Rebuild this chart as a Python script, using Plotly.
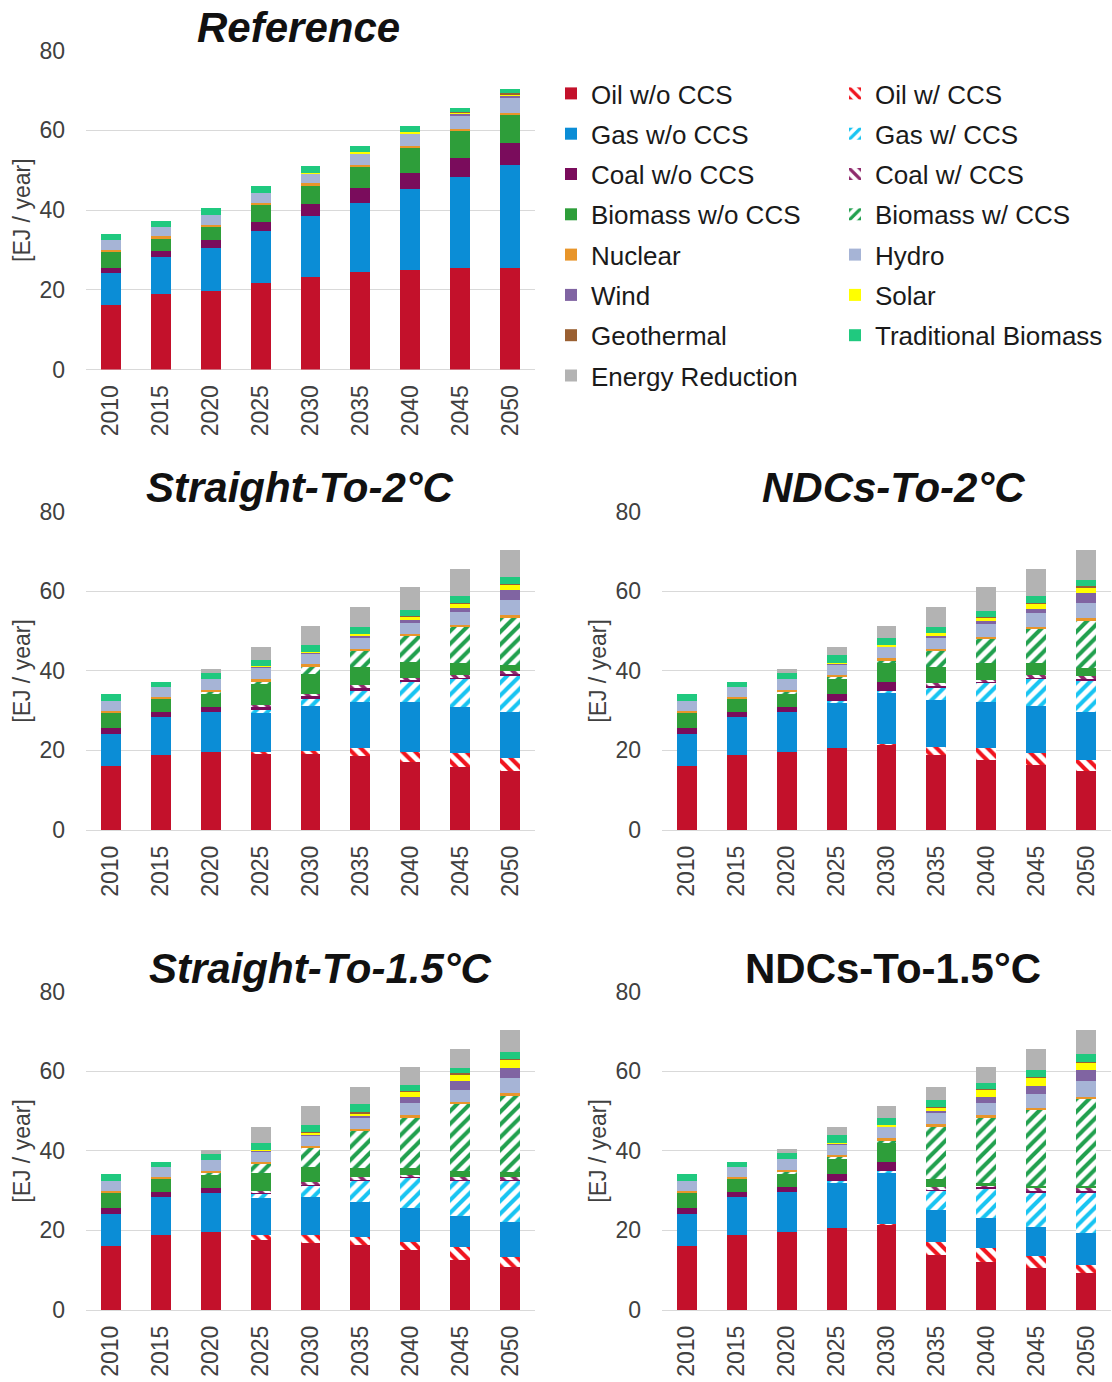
import plotly.graph_objects as go

# ---------------- categories / series ----------------
YEARS = ["2010", "2015", "2020", "2025", "2030", "2035", "2040", "2045", "2050"]

SERIES = ["Oil w/o CCS", "Oil w/ CCS", "Gas w/o CCS", "Gas w/ CCS",
          "Coal w/o CCS", "Coal w/ CCS", "Biomass w/o CCS", "Biomass w/ CCS",
          "Nuclear", "Hydro", "Wind", "Solar", "Geothermal",
          "Traditional Biomass", "Energy Reduction"]

COLORS = ["#C3112B", "#F0141E", "#0B8DD6", "#18C4F2",
          "#7A0C5C", "#8E2A6C", "#2E9E3A", "#21A04E",
          "#E8952A", "#A6B4D6", "#8064A2", "#FFFF00", "#9A6032",
          "#20C97F", "#B3B3B3"]

PATTERNS = ["", "\\", "", "/", "", "\\", "", "/", "", "", "", "", "", "", ""]

# ---------------- Reference ----------------
REF_OIL      = [16.2, 18.9, 19.7, 21.8, 23.3, 24.4, 24.9, 25.5, 25.5]
REF_OIL_CCS  = [0, 0, 0, 0, 0, 0, 0, 0, 0]
REF_GAS      = [7.9, 9.4, 10.7, 13.0, 15.3, 17.4, 20.4, 22.9, 25.8]
REF_GAS_CCS  = [0, 0, 0, 0, 0, 0, 0, 0, 0]
REF_COAL     = [1.4, 1.4, 2.1, 2.3, 2.9, 3.6, 3.9, 4.6, 5.4]
REF_COAL_CCS = [0, 0, 0, 0, 0, 0, 0, 0, 0]
REF_BIO      = [4.2, 3.4, 3.5, 4.3, 4.8, 5.5, 6.3, 6.7, 7.1]
REF_BIO_CCS  = [0, 0, 0, 0, 0, 0, 0, 0, 0]
REF_NUCLEAR  = [0.3, 0.3, 0.3, 0.3, 0.4, 0.5, 0.6, 0.6, 0.6]
REF_HYDRO    = [2.5, 2.4, 2.4, 2.5, 2.5, 2.8, 3.1, 3.5, 3.8]
REF_WIND     = [0, 0, 0, 0, 0.1, 0.2, 0.2, 0.4, 0.6]
REF_SOLAR    = [0, 0, 0, 0, 0.05, 0.1, 0.1, 0.3, 0.4]
REF_GEO      = [0, 0, 0, 0, 0, 0, 0, 0.1, 0.1]
REF_TRAD     = [1.6, 1.4, 1.7, 1.7, 1.8, 1.5, 1.5, 1.0, 1.0]
REF_ER       = [0, 0, 0, 0, 0, 0, 0, 0, 0]

# ---------------- Straight-To-2°C ----------------
S2_OIL      = [16.2, 18.9, 19.5, 19.3, 19.0, 18.6, 17.2, 15.9, 14.7]
S2_OIL_CCS  = [0, 0, 0, 0.2, 0.8, 1.9, 2.5, 3.4, 3.3]
S2_GAS      = [7.9, 9.4, 10.1, 10.2, 11.3, 11.7, 12.5, 11.7, 11.7]
S2_GAS_CCS  = [0, 0, 0, 0.5, 1.7, 2.6, 5.0, 7.1, 9.2]
S2_COAL     = [1.4, 1.4, 1.4, 1.0, 1.0, 1.2, 0.7, 0.4, 0.3]
S2_COAL_CCS = [0, 0, 0, 0.3, 0.3, 0.3, 0.3, 0.5, 0.7]
S2_BIO      = [4.2, 3.4, 3.3, 5.2, 5.0, 4.7, 4.0, 3.0, 1.6]
S2_BIO_CCS  = [0, 0, 0.5, 0.8, 2.1, 4.2, 6.7, 9.2, 12.1]
S2_NUCLEAR  = [0.3, 0.3, 0.3, 0.5, 0.4, 0.3, 0.3, 0.3, 0.4]
S2_HYDRO    = [2.5, 2.4, 2.9, 3.0, 2.8, 3.0, 3.0, 3.3, 3.8]
S2_WIND     = [0, 0, 0, 0.1, 0.2, 0.4, 0.5, 1.0, 2.5]
S2_SOLAR    = [0, 0, 0, 0.05, 0.1, 0.4, 1.0, 1.2, 1.5]
S2_GEO      = [0, 0, 0, 0, 0, 0, 0.1, 0.1, 0.1]
S2_TRAD     = [1.6, 1.4, 1.4, 1.5, 1.8, 1.6, 1.5, 1.6, 1.6]
S2_ER       = [0, 0, 1.0, 3.25, 4.65, 5.1, 5.7, 6.9, 6.8]

# ---------------- NDCs-To-2°C ----------------
N2_OIL      = [16.2, 18.9, 19.5, 20.5, 21.5, 18.8, 17.6, 16.3, 14.7]
N2_OIL_CCS  = [0, 0, 0, 0, 0.1, 2.1, 2.9, 3.0, 2.9]
N2_GAS      = [7.9, 9.4, 10.1, 11.7, 13.1, 11.8, 11.7, 11.9, 12.1]
N2_GAS_CCS  = [0, 0, 0, 0.3, 0.2, 2.9, 4.7, 6.9, 8.0]
N2_COAL     = [1.4, 1.4, 1.4, 1.6, 2.2, 0.9, 0.6, 0.4, 0.3]
N2_COAL_CCS = [0, 0, 0, 0, 0, 0.3, 0.3, 0.5, 0.8]
N2_BIO      = [4.2, 3.4, 3.3, 4.2, 5.2, 4.2, 4.1, 2.9, 1.8]
N2_BIO_CCS  = [0, 0, 0.5, 0.4, 0.4, 4.2, 6.3, 8.8, 12.2]
N2_NUCLEAR  = [0.3, 0.3, 0.3, 0.3, 0.4, 0.3, 0.3, 0.3, 0.5]
N2_HYDRO    = [2.5, 2.4, 2.9, 2.8, 3.0, 3.1, 3.4, 3.4, 3.6]
N2_WIND     = [0, 0, 0, 0.1, 0.2, 0.4, 0.5, 1.2, 2.6]
N2_SOLAR    = [0, 0, 0, 0.05, 0.1, 0.5, 1.0, 1.4, 1.6]
N2_GEO      = [0, 0, 0, 0, 0, 0, 0.1, 0.1, 0.1]
N2_TRAD     = [1.6, 1.4, 1.4, 2.0, 1.8, 1.6, 1.5, 1.6, 1.6]
N2_ER       = [0, 0, 1.0, 1.95, 2.95, 4.9, 6.0, 6.9, 7.5]

# ---------------- Straight-To-1.5°C ----------------
S15_OIL      = [16.2, 18.9, 19.5, 17.6, 16.8, 16.3, 15.1, 12.6, 10.9]
S15_OIL_CCS  = [0, 0, 0, 1.2, 2.0, 2.1, 2.1, 3.3, 2.5]
S15_GAS      = [7.9, 9.4, 9.8, 9.3, 9.7, 8.8, 8.3, 7.6, 8.8]
S15_GAS_CCS  = [0, 0, 0, 1.2, 2.9, 5.5, 8.0, 9.2, 10.5]
S15_COAL     = [1.4, 1.4, 1.3, 0.4, 0.3, 0.2, 0.2, 0.2, 0.2]
S15_COAL_CCS = [0, 0, 0, 0.2, 0.4, 0.4, 0.3, 0.5, 0.5]
S15_BIO      = [4.2, 3.4, 3.6, 4.4, 3.9, 2.3, 1.6, 1.4, 1.2]
S15_BIO_CCS  = [0, 0, 0.5, 2.6, 5.0, 9.6, 13.0, 17.1, 19.4]
S15_NUCLEAR  = [0.3, 0.3, 0.3, 0.3, 0.3, 0.3, 0.3, 0.4, 0.4]
S15_HYDRO    = [2.5, 2.4, 2.8, 2.8, 2.7, 3.1, 3.0, 3.0, 3.8]
S15_WIND     = [0, 0, 0, 0.2, 0.3, 0.4, 1.7, 2.1, 2.5]
S15_SOLAR    = [0, 0, 0, 0.1, 0.4, 0.5, 1.4, 2.0, 2.3]
S15_GEO      = [0, 0, 0, 0, 0.1, 0.3, 0.1, 0.1, 0.1]
S15_TRAD     = [1.6, 1.4, 1.4, 1.6, 1.6, 2.0, 1.5, 1.4, 1.6]
S15_ER       = [0, 0, 1.0, 4.0, 4.75, 4.2, 4.4, 4.7, 5.6]

# ---------------- NDCs-To-1.5°C ----------------
N15_OIL      = [16.2, 18.9, 19.5, 20.5, 21.5, 13.8, 12.1, 10.5, 9.2]
N15_OIL_CCS  = [0, 0, 0, 0, 0.1, 3.4, 3.4, 3.1, 2.1]
N15_GAS      = [7.9, 9.4, 10.1, 11.7, 13.1, 7.9, 7.5, 7.3, 8.0]
N15_GAS_CCS  = [0, 0, 0, 0.3, 0.2, 5.1, 7.6, 8.8, 10.4]
N15_COAL     = [1.4, 1.4, 1.4, 1.6, 2.2, 0.3, 0.3, 0.3, 0.3]
N15_COAL_CCS = [0, 0, 0, 0, 0, 0.3, 0.6, 0.8, 0.8]
N15_BIO      = [4.2, 3.4, 3.3, 4.2, 5.2, 2.0, 0.5, 0.3, 0.3]
N15_BIO_CCS  = [0, 0, 0.5, 0.4, 0.4, 13.4, 16.6, 19.4, 22.1]
N15_NUCLEAR  = [0.3, 0.3, 0.3, 0.3, 0.4, 0.4, 0.3, 0.3, 0.4]
N15_HYDRO    = [2.5, 2.4, 2.9, 2.8, 3.0, 2.9, 3.0, 3.5, 3.8]
N15_WIND     = [0, 0, 0, 0.1, 0.2, 0.6, 1.7, 2.0, 2.8]
N15_SOLAR    = [0, 0, 0, 0.05, 0.1, 0.8, 1.8, 2.2, 2.1]
N15_GEO      = [0, 0, 0, 0, 0, 0.1, 0.1, 0.1, 0.1]
N15_TRAD     = [1.6, 1.4, 1.4, 2.0, 1.8, 1.8, 1.5, 1.6, 1.8]
N15_ER       = [0, 0, 1.0, 1.95, 2.95, 3.2, 4.0, 5.4, 6.1]

Y_TICKS = [0, 20, 40, 60, 80]
Y_TITLE = "[EJ / year]"

REF_DATA = [REF_OIL, REF_OIL_CCS, REF_GAS, REF_GAS_CCS, REF_COAL, REF_COAL_CCS, REF_BIO, REF_BIO_CCS,
            REF_NUCLEAR, REF_HYDRO, REF_WIND, REF_SOLAR, REF_GEO, REF_TRAD, REF_ER]
S2_DATA = [S2_OIL, S2_OIL_CCS, S2_GAS, S2_GAS_CCS, S2_COAL, S2_COAL_CCS, S2_BIO, S2_BIO_CCS,
           S2_NUCLEAR, S2_HYDRO, S2_WIND, S2_SOLAR, S2_GEO, S2_TRAD, S2_ER]
N2_DATA = [N2_OIL, N2_OIL_CCS, N2_GAS, N2_GAS_CCS, N2_COAL, N2_COAL_CCS, N2_BIO, N2_BIO_CCS,
           N2_NUCLEAR, N2_HYDRO, N2_WIND, N2_SOLAR, N2_GEO, N2_TRAD, N2_ER]
S15_DATA = [S15_OIL, S15_OIL_CCS, S15_GAS, S15_GAS_CCS, S15_COAL, S15_COAL_CCS, S15_BIO, S15_BIO_CCS,
            S15_NUCLEAR, S15_HYDRO, S15_WIND, S15_SOLAR, S15_GEO, S15_TRAD, S15_ER]
N15_DATA = [N15_OIL, N15_OIL_CCS, N15_GAS, N15_GAS_CCS, N15_COAL, N15_COAL_CCS, N15_BIO, N15_BIO_CCS,
            N15_NUCLEAR, N15_HYDRO, N15_WIND, N15_SOLAR, N15_GEO, N15_TRAD, N15_ER]

# ---------------- layout helpers ----------------
W, H = 1112, 1382
FONT = "Arial, 'Liberation Sans', sans-serif"


def fx(p):
    return p / W


def fy(p):
    return 1 - p / H


PANELS = [
    dict(data=REF_DATA, title="<b><i>Reference</i></b>", x0=86, x1=535, ytop=50.5, ybot=369.5, tx=298, ty=27, ax=22),
    dict(data=S2_DATA, title="<b><i>Straight-To-2°C</i></b>", x0=86, x1=535, ytop=511.5, ybot=830, tx=300, ty=488, ax=22),
    dict(data=N2_DATA, title="<b><i>NDCs-To-2°C</i></b>", x0=662, x1=1111, ytop=511.5, ybot=830, tx=893, ty=488, ax=598),
    dict(data=S15_DATA, title="<b><i>Straight-To-1.5°C</i></b>", x0=86, x1=535, ytop=991.5, ybot=1310, tx=320, ty=968, ax=22),
    dict(data=N15_DATA, title="<b>NDCs-To-1.5°C</b>", x0=662, x1=1111, ytop=991.5, ybot=1310, tx=893, ty=968, ax=598),
]

fig = go.Figure()
annotations = []
layout_axes = {}

for i, p in enumerate(PANELS):
    n = "" if i == 0 else str(i + 1)
    for j, name in enumerate(SERIES):
        pat = PATTERNS[j]
        if pat:
            marker = dict(color=COLORS[j], line=dict(width=0),
                          pattern=dict(shape=pat, fgcolor=COLORS[j], bgcolor="white",
                                       size=9, solidity=0.45, fillmode="replace"))
        else:
            marker = dict(color=COLORS[j], line=dict(width=0))
        fig.add_trace(go.Bar(
            x=YEARS, y=p["data"][j], name=name, marker=marker,
            xaxis="x" + n, yaxis="y" + n,
            legend="legend" if j % 2 == 0 else "legend2",
            legendgroup=name, showlegend=(i == 0),
        ))
    layout_axes["xaxis" + n] = dict(
        domain=[fx(p["x0"]), fx(p["x1"])], anchor="y" + n, type="category",
        showgrid=False, showline=False, ticks="", tickangle=-90,
        tickfont=dict(family=FONT, size=23, color="#404040"), ticklabelstandoff=10,
    )
    layout_axes["yaxis" + n] = dict(
        domain=[fy(p["ybot"]), fy(p["ytop"])], anchor="x" + n,
        range=[0, 80], tickvals=Y_TICKS, showgrid=True, gridcolor="#D9D9D9", gridwidth=1,
        zeroline=True, zerolinecolor="#D9D9D9", zerolinewidth=1, showline=False, ticks="",
        tickfont=dict(family=FONT, size=23, color="#404040"), ticklabelstandoff=20,
    )
    annotations.append(dict(
        text=p["title"], x=fx(p["tx"]), y=fy(p["ty"]), xref="paper", yref="paper",
        xanchor="center", yanchor="middle", showarrow=False,
        font=dict(family=FONT, size=42, color="#111111"),
    ))
    annotations.append(dict(
        text=Y_TITLE, x=fx(p["ax"]), y=fy((p["ytop"] + p["ybot"]) / 2), xref="paper", yref="paper",
        xanchor="center", yanchor="middle", showarrow=False, textangle=-90,
        font=dict(family=FONT, size=23, color="#404040"),
    ))

LEGEND_STYLE = dict(
    orientation="v", yanchor="top", xanchor="left", traceorder="grouped",
    tracegroupgap=3.5, itemwidth=30, bgcolor="rgba(0,0,0,0)",
    font=dict(family=FONT, size=26, color="#1a1a1a"),
)

fig.update_layout(
    width=W, height=H,
    margin=dict(l=0, r=0, t=0, b=0, autoexpand=False),
    paper_bgcolor="white", plot_bgcolor="white",
    barmode="stack", bargap=0.6,
    font=dict(family=FONT, color="#222222"),
    legend=dict(x=fx(551), y=fy(70), **LEGEND_STYLE),
    legend2=dict(x=fx(835), y=fy(70), **LEGEND_STYLE),
    annotations=annotations,
    **layout_axes,
)

fig.write_html("out.html")
